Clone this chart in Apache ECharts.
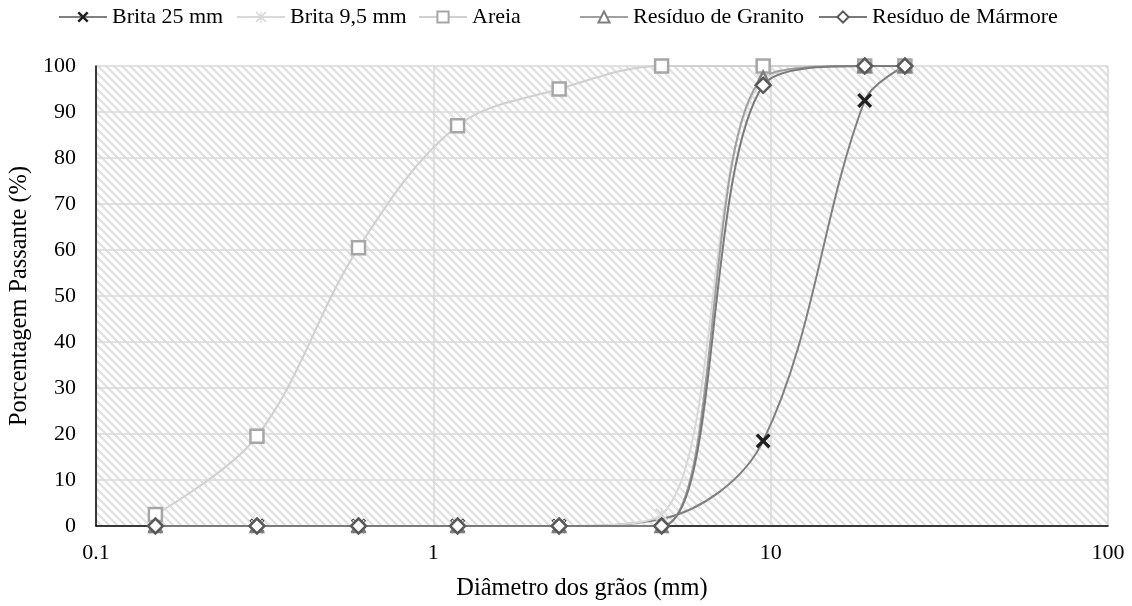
<!DOCTYPE html>
<html>
<head>
<meta charset="utf-8">
<script src="https://cdn.jsdelivr.net/npm/echarts@6/dist/echarts.min.js"></script>
<style>
html,body{margin:0;padding:0;background:#fff;}
#c{width:1132px;height:606px;}
</style>
</head>
<body>
<div id="c"></div>
<script>
var sieves = [0.15, 0.3, 0.6, 1.18, 2.36, 4.75, 9.5, 19, 25];
var brita25 = [0, 0, 0, 0, 0, 1.5, 18.5, 92.5, 100];
var brita95 = [0, 0, 0, 0, 0, 2.5, 97, 100, 100];
var areia = [2.5, 19.5, 60.5, 87, 95, 100, 100, 100, 100];
var granito = [0, 0, 0, 0, 0, 0, 97.5, 100, 100];
var marmore = [0, 0, 0, 0, 0, 0, 95.8, 100, 100];
var seriesNames = ['Brita 25 mm', 'Brita 9,5 mm', 'Areia', 'Resíduo de Granito', 'Resíduo de Mármore'];
var xTicks = [0.1, 1, 10, 100];

function pairs(vals, hideIdx) {
  return sieves.map(function (s, i) {
    if (i === hideIdx) return {value: [s, vals[i]], symbol: 'none'};
    return [s, vals[i]];
  });
}

// hatch pattern
var pc = document.createElement('canvas');
pc.width = 8; pc.height = 8;
var g = pc.getContext('2d');
g.fillStyle = '#ffffff';
g.fillRect(0, 0, 8, 8);
g.strokeStyle = '#e2e2e2';
g.lineWidth = 2.4;
g.beginPath();
g.moveTo(-2, -2); g.lineTo(10, 10);
g.moveTo(-2, 6); g.lineTo(2, 10);
g.moveTo(6, -2); g.lineTo(10, 2);
g.stroke();

var xPath = 'path://M0,2.2 L2.2,0 L7,4.8 L11.8,0 L14,2.2 L9.2,7 L14,11.8 L11.8,14 L7,9.2 L2.2,14 L0,11.8 L4.8,7 Z';
var starPath = 'path://M0,1.5 L1.5,0 L7,5.5 L12.5,0 L14,1.5 L8.5,7 L14,12.5 L12.5,14 L7,8.5 L1.5,14 L0,12.5 L5.5,7 Z M6.2,0 L7.8,0 L7.8,14 L6.2,14 Z';

var font = 'Liberation Serif';
var fs = 22;
var fsTitle = 24.4;
var chart = echarts.init(document.getElementById('c'), null, {renderer: 'canvas'});

var lineW = 2;
var series = [
  {
    name: seriesNames[0], data: pairs(brita25, 5), symbol: xPath, symbolSize: 15,
    lineStyle: {color: '#808080', width: lineW},
    itemStyle: {color: '#1f1f1f', borderWidth: 0}
  },
  {
    name: seriesNames[1], data: pairs(brita95), symbol: starPath, symbolSize: 13,
    lineStyle: {color: '#d9d9d9', width: lineW},
    itemStyle: {color: '#d9d9d9', borderWidth: 0}
  },
  {
    name: seriesNames[2], data: pairs(areia), symbol: 'rect', symbolSize: 13,
    lineStyle: {color: '#d0d0d0', width: lineW},
    itemStyle: {color: '#ffffff', borderColor: '#a6a6a6', borderWidth: 2.5}
  },
  {
    name: seriesNames[3], data: pairs(granito), symbol: 'triangle', symbolSize: 12,
    lineStyle: {color: '#a0a0a0', width: lineW},
    itemStyle: {color: '#ffffff', borderColor: '#7f7f7f', borderWidth: 2.5}
  },
  {
    name: seriesNames[4], data: pairs(marmore), symbol: 'diamond', symbolSize: 15,
    lineStyle: {color: '#7a7a7a', width: lineW},
    itemStyle: {color: '#ffffff', borderColor: '#595959', borderWidth: 2.5}
  }
].map(function (s) {
  s.type = 'line';
  s.smooth = 0.35;
  s.showAllSymbol = true;
  s.animation = false;
  return s;
});

var legendLeft = [58, 236, 418, 579, 818];
var legends = seriesNames.map(function (n, i) {
  return {
    top: 6,
    left: legendLeft[i],
    itemWidth: 48,
    itemHeight: 14,
    itemGap: 0,
    padding: 0,
    textStyle: {fontFamily: font, fontSize: fs, color: '#000'},
    data: [n]
  };
});

chart.setOption({
  animation: false,
  backgroundColor: '#ffffff',
  legend: legends,
  grid: {
    left: 96, right: 24, top: 66, bottom: 79,
    show: true,
    backgroundColor: {image: pc, repeat: 'repeat'},
    borderWidth: 0
  },
  xAxis: {
    type: 'log',
    logBase: 10,
    min: xTicks[0],
    max: xTicks[xTicks.length - 1],
    name: 'Diâmetro dos grãos (mm)',
    nameLocation: 'middle',
    nameGap: 51,
    nameTextStyle: {fontFamily: font, fontSize: fsTitle, color: '#000', padding: [0, 40, 0, 0]},
    axisLine: {show: true, lineStyle: {color: '#000', width: 1.5}},
    axisTick: {show: false},
    axisLabel: {fontFamily: font, fontSize: fs, color: '#000', margin: 16,
      formatter: function (v) { return String(v); }},
    splitLine: {show: true, lineStyle: {color: '#d9d9d9', width: 1.5}},
    minorTick: {show: false},
    minorSplitLine: {show: false}
  },
  yAxis: {
    type: 'value',
    min: 0, max: 100, interval: 10,
    name: 'Porcentagem Passante (%)',
    nameLocation: 'middle',
    nameGap: 64,
    nameTextStyle: {fontFamily: font, fontSize: fsTitle, color: '#000'},
    axisLine: {show: true, lineStyle: {color: '#000', width: 1.5}},
    axisTick: {show: false},
    axisLabel: {fontFamily: font, fontSize: fs, color: '#000', margin: 20},
    splitLine: {show: true, lineStyle: {color: '#d9d9d9', width: 1.5}}
  },
  series: series
});
</script>
</body>
</html>
